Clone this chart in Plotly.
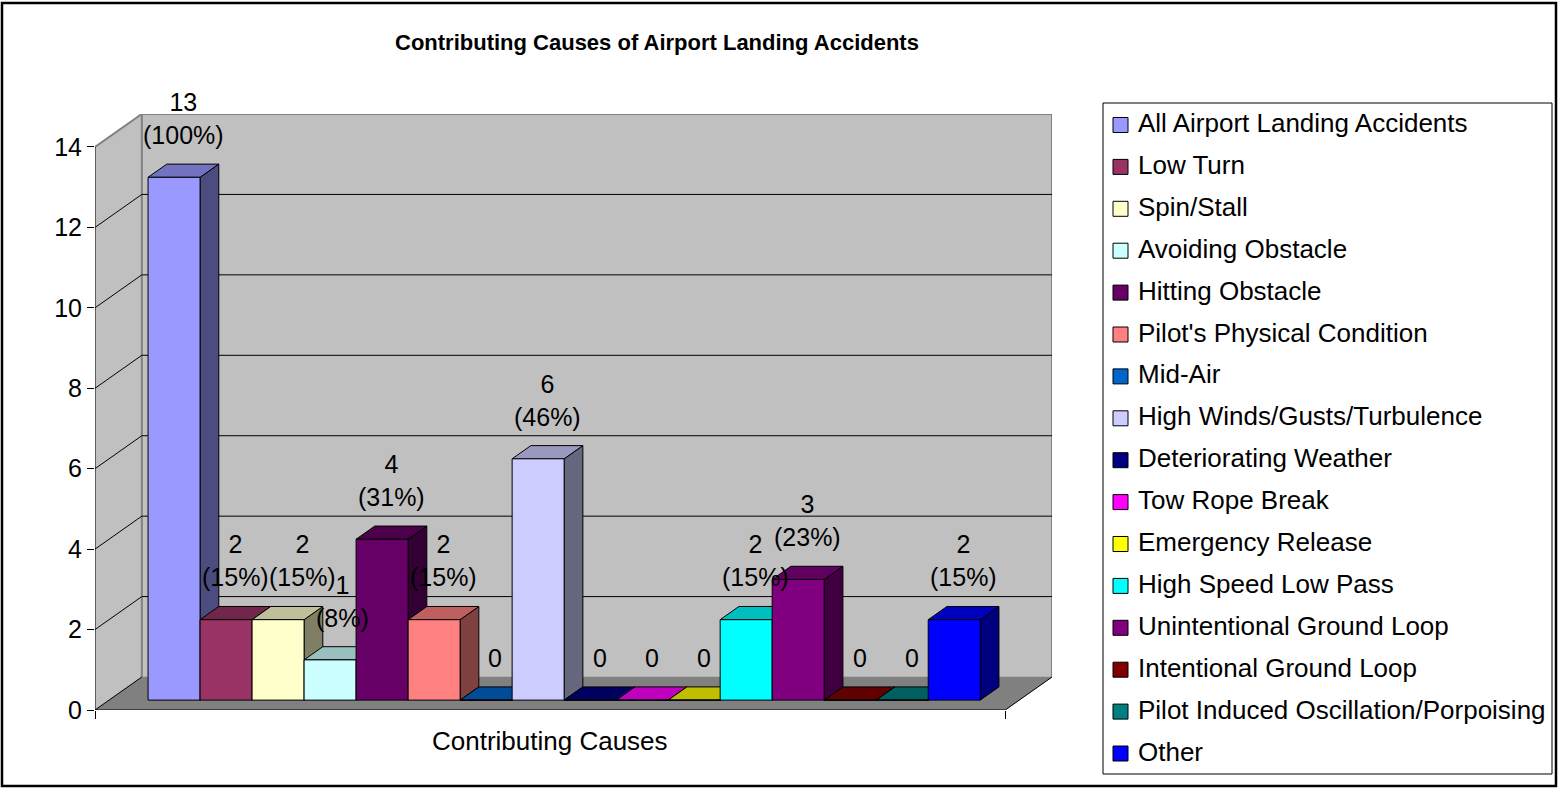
import plotly.graph_objects as go

# ---- data -------------------------------------------------------------
categories = [
    "All Airport Landing Accidents",
    "Low Turn",
    "Spin/Stall",
    "Avoiding Obstacle",
    "Hitting Obstacle",
    "Pilot's Physical Condition",
    "Mid-Air",
    "High Winds/Gusts/Turbulence",
    "Deteriorating Weather",
    "Tow Rope Break",
    "Emergency Release",
    "High Speed Low Pass",
    "Unintentional Ground Loop",
    "Intentional Ground Loop",
    "Pilot Induced Oscillation/Porpoising",
    "Other",
]
counts = [13, 2, 2, 1, 4, 2, 0, 6, 0, 0, 0, 2, 3, 0, 0, 2]
colors = [
    "#9999FF", "#993366", "#FFFFCC", "#CCFFFF", "#660066", "#FF8080",
    "#0066CC", "#CCCCFF", "#000080", "#FF00FF", "#FFFF00", "#00FFFF",
    "#800080", "#800000", "#008080", "#0000FF",
]
y_ticks = [0, 2, 4, 6, 8, 10, 12, 14]
title_text = "Contributing Causes of Airport Landing Accidents"
x_title = "Contributing Causes"

# ---- 3-D box geometry (in axis units) --------------------------------
N = len(categories)
GAP = 0.75                      # empty space either side of the cluster (bar widths)
FRONT_W = N + 2 * GAP           # width of the floor's front edge
DX, DY = 0.9, 0.82              # oblique offset of the full chart depth
D0, D1 = 0.30, 0.70             # depth slice occupied by the columns
YTOP = y_ticks[-1]
XMAX = FRONT_W + DX
YMAX = YTOP + DY

W, H = 1559, 789
ML, MT = 95, 114
PLOT_W, PLOT_H = 957, 596
MR = W - ML - PLOT_W
MB = H - MT - PLOT_H

FONT = "Liberation Sans, Arial, sans-serif"


def proj(c, v, d):
    return c + d * DX, v + d * DY


def shade(hex_color, k):
    h = hex_color.lstrip("#")
    r, g, b = (int(h[i:i + 2], 16) for i in (0, 2, 4))
    return "#%02X%02X%02X" % (int(r * k), int(g * k), int(b * k))


def px_x(px):
    return (px - ML) / PLOT_W


def px_y(py):
    return (MT + PLOT_H - py) / PLOT_H


traces = []


def polygon(points, fill, line_color="black", width=1):
    xs = [p[0] for p in points] + [points[0][0]]
    ys = [p[1] for p in points] + [points[0][1]]
    traces.append(go.Scatter(
        x=xs, y=ys, mode="lines", fill="toself", fillcolor=fill,
        line=dict(color=line_color, width=width),
        hoverinfo="skip", showlegend=False, cliponaxis=False,
    ))


def segments(segs, color, width=1):
    xs, ys = [], []
    for (a, b) in segs:
        xs += [a[0], b[0], None]
        ys += [a[1], b[1], None]
    traces.append(go.Scatter(
        x=xs, y=ys, mode="lines", line=dict(color=color, width=width),
        hoverinfo="skip", showlegend=False, cliponaxis=False,
    ))


# walls and floor
WALL = "#C0C0C0"
FLOOR = "#808080"
polygon([proj(0, 0, 0), proj(0, 0, 1), proj(0, YTOP, 1), proj(0, YTOP, 0)], WALL, WALL, 0.5)
polygon([proj(0, 0, 1), proj(FRONT_W, 0, 1), proj(FRONT_W, YTOP, 1), proj(0, YTOP, 1)], WALL, WALL, 0.5)
polygon([proj(0, 0, 0), proj(FRONT_W, 0, 0), proj(FRONT_W, 0, 1), proj(0, 0, 1)], FLOOR, FLOOR, 0.5)

# wall borders
segments([
    (proj(0, 0, 1), proj(0, YTOP, 1)),
    (proj(0, YTOP, 1), proj(FRONT_W, YTOP, 1)),
    (proj(FRONT_W, YTOP, 1), proj(FRONT_W, 0, 1)),
    (proj(0, YTOP, 0), proj(0, YTOP, 1)),
], "#808080", 2)

# gridlines on the back and side walls
grid = []
for v in y_ticks[1:-1]:
    grid.append((proj(0, v, 1), proj(FRONT_W, v, 1)))
    grid.append((proj(0, v, 0), proj(0, v, 1)))
segments(grid, "black", 1)

# floor edges and the front value axis line
segments([
    (proj(0, 0, 0), proj(FRONT_W, 0, 0)),
    (proj(FRONT_W, 0, 0), proj(FRONT_W, 0, 1)),
    (proj(0, 0, 0), proj(0, 0, 1)),
    (proj(0, 0, 0), proj(0, YTOP, 0)),
], "black", 1)

# columns, drawn left to right
for i, (v, col) in enumerate(zip(counts, colors)):
    c0, c1 = GAP + i, GAP + i + 1
    polygon([proj(c1, 0, D0), proj(c1, 0, D1), proj(c1, v, D1), proj(c1, v, D0)], shade(col, 0.5))
    polygon([proj(c0, v, D0), proj(c1, v, D0), proj(c1, v, D1), proj(c0, v, D1)], shade(col, 0.75))
    polygon([proj(c0, 0, D0), proj(c1, 0, D0), proj(c1, v, D0), proj(c0, v, D0)], col)

fig = go.Figure(traces)

# ---- data labels -------------------------------------------------------
LABEL_SIZE = 25
LINE_PX = LABEL_SIZE * 1.3
ux = PLOT_W / XMAX
uy = PLOT_H / YMAX
CHAR_EM = {"(": 0.333, ")": 0.333, "%": 0.889}


def text_w(s):
    return sum(CHAR_EM.get(ch, 0.556) for ch in s) * LABEL_SIZE / ux


total = counts[0]
annotations = []
placed = []          # one box per text line: (x0, x1, y0, y1)
for i, v in enumerate(counts):
    lines = [str(v)] if v == 0 else [str(v), "(%d%%)" % round(v / total * 100)]
    cx, _ = proj(GAP + i + 0.5, v, 0.5)
    y_bottom = v + D1 * DY + 13 / uy
    lh = LINE_PX / uy
    n = len(lines)

    def boxes(center):
        out = []
        for k, s in enumerate(lines):
            w = text_w(s)
            yb = y_bottom + (n - 1 - k) * lh
            out.append((center - w / 2, center + w / 2, yb, yb + lh))
        return out

    # nudge right until no line overlaps a line already placed
    moved = True
    while moved:
        moved = False
        for (x0, x1, y0, y1) in boxes(cx):
            for (px0, px1, py0, py1) in placed:
                if y0 < py1 - 1e-9 and y1 > py0 + 1e-9 and x0 < px1 and x1 > px0:
                    cx += px1 - x0
                    moved = True
                    break
            if moved:
                break
    placed.extend(boxes(cx))
    annotations.append(dict(
        x=cx, y=y_bottom, xref="x", yref="y", xanchor="center", yanchor="bottom",
        text="<br>".join(lines), showarrow=False,
        font=dict(family=FONT, size=LABEL_SIZE, color="black"),
    ))

# title and category axis title
annotations.append(dict(
    x=px_x(657), y=px_y(43), xref="paper", yref="paper",
    xanchor="center", yanchor="middle", showarrow=False,
    text="<b>%s</b>" % title_text,
    font=dict(family=FONT, size=22, color="black"),
))
annotations.append(dict(
    x=FRONT_W / 2, y=px_y(741), xref="x", yref="paper",
    xanchor="center", yanchor="middle", showarrow=False,
    text=x_title, font=dict(family=FONT, size=26, color="black"),
))

# ---- legend (boxed list of series) -----------------------------------
shapes = []
LEG_X0, LEG_X1, LEG_Y0, LEG_Y1 = 1103, 1552, 103, 774
ROW0, ROW_STEP = 125, 41.9
shapes.append(dict(type="rect", xref="paper", yref="paper",
                   x0=px_x(LEG_X0), x1=px_x(LEG_X1), y0=px_y(LEG_Y0), y1=px_y(LEG_Y1),
                   line=dict(color="black", width=1), fillcolor="white", layer="below"))
for i, (name, col) in enumerate(zip(categories, colors)):
    yc = ROW0 + i * ROW_STEP
    shapes.append(dict(type="rect", xref="paper", yref="paper",
                       x0=px_x(1113), x1=px_x(1128), y0=px_y(yc + 7.5), y1=px_y(yc - 7.5),
                       line=dict(color="black", width=1), fillcolor=col))
    annotations.append(dict(
        x=px_x(1136), y=px_y(yc - 2), xref="paper", yref="paper",
        xanchor="left", yanchor="middle", showarrow=False, text=name,
        font=dict(family=FONT, size=26, color="black"),
    ))

# outer chart border
shapes.append(dict(type="rect", xref="paper", yref="paper",
                   x0=px_x(2), x1=px_x(1556), y0=px_y(786), y1=px_y(3),
                   line=dict(color="black", width=2.5), fillcolor="rgba(0,0,0,0)"))

fig.update_layout(
    width=W, height=H, autosize=False,
    margin=dict(l=ML, r=MR, t=MT, b=MB, pad=0),
    paper_bgcolor="white", plot_bgcolor="white",
    showlegend=False,
    annotations=annotations, shapes=shapes,
    xaxis=dict(range=[0, XMAX], showgrid=False, zeroline=False, showline=False,
               tickmode="array", tickvals=[0, FRONT_W], ticktext=["", ""],
               ticks="outside", ticklen=8, tickwidth=1, tickcolor="black", fixedrange=True),
    yaxis=dict(range=[0, YMAX], showgrid=False, zeroline=False, showline=False,
               tickmode="array", tickvals=y_ticks, ticktext=[str(t) for t in y_ticks],
               ticks="outside", ticklen=7, tickwidth=1, tickcolor="black",
               tickfont=dict(family=FONT, size=25, color="black"), fixedrange=True),
    font=dict(family=FONT, color="black"),
)

fig.write_html("out.html", config={"displayModeBar": False})
